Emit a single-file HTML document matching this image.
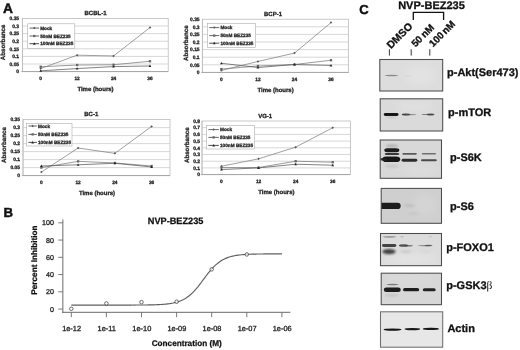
<!DOCTYPE html>
<html><head><meta charset="utf-8"><title>Figure</title><style>html,body{margin:0;padding:0;background:#fff}svg{display:block}</style></head><body>
<svg width="520" height="350" viewBox="0 0 520 350" font-family='"Liberation Sans", sans-serif' text-rendering="geometricPrecision">
<rect width="520" height="350" fill="#fff"/>
<defs><filter id="b1" x="-5%" y="-5%" width="110%" height="110%"><feGaussianBlur stdDeviation="0.35"/></filter><filter id="b2" x="-20%" y="-80%" width="140%" height="260%"><feGaussianBlur stdDeviation="0.75"/></filter><filter id="b4" x="-30%" y="-60%" width="160%" height="220%"><feGaussianBlur stdDeviation="4"/></filter><filter id="b3" x="-20%" y="-50%" width="140%" height="200%"><feGaussianBlur stdDeviation="1.1"/></filter></defs>
<text x="2.90" y="13.20" font-size="13.8" font-weight="bold" text-anchor="start" fill="#111" stroke="#111" stroke-width="0.45">A</text>
<text x="3.40" y="217.20" font-size="13.2" font-weight="bold" text-anchor="start" fill="#111" stroke="#111" stroke-width="0.45">B</text>
<text x="359.20" y="14.00" font-size="13.0" font-weight="bold" text-anchor="start" fill="#111" stroke="#111" stroke-width="0.45">C</text>
<g filter="url(#b1)">
<rect x="22.5" y="18.4" width="145.7" height="53.199999999999996" fill="#fff" stroke="#b2b2b2" stroke-width="0.7"/>
<line x1="22.5" y1="26.00" x2="168.2" y2="26.00" stroke="#c6c6c6" stroke-width="0.7"/>
<line x1="22.5" y1="33.60" x2="168.2" y2="33.60" stroke="#c6c6c6" stroke-width="0.7"/>
<line x1="22.5" y1="41.20" x2="168.2" y2="41.20" stroke="#c6c6c6" stroke-width="0.7"/>
<line x1="22.5" y1="48.80" x2="168.2" y2="48.80" stroke="#c6c6c6" stroke-width="0.7"/>
<line x1="22.5" y1="56.40" x2="168.2" y2="56.40" stroke="#c6c6c6" stroke-width="0.7"/>
<line x1="22.5" y1="64.00" x2="168.2" y2="64.00" stroke="#c6c6c6" stroke-width="0.7"/>
<line x1="22.5" y1="18.4" x2="22.5" y2="71.6" stroke="#bcbcbc" stroke-width="0.8"/>
<line x1="21.3" y1="71.6" x2="168.2" y2="71.6" stroke="#a2a2a2" stroke-width="0.9"/>
<text x="19.10" y="20.10" font-size="4.9" font-weight="bold" text-anchor="end" fill="#222" stroke="#222" stroke-width="0.28">0.35</text>
<text x="19.10" y="27.70" font-size="4.9" font-weight="bold" text-anchor="end" fill="#222" stroke="#222" stroke-width="0.28">0.3</text>
<text x="19.10" y="35.30" font-size="4.9" font-weight="bold" text-anchor="end" fill="#222" stroke="#222" stroke-width="0.28">0.25</text>
<text x="19.10" y="42.90" font-size="4.9" font-weight="bold" text-anchor="end" fill="#222" stroke="#222" stroke-width="0.28">0.2</text>
<text x="19.10" y="50.50" font-size="4.9" font-weight="bold" text-anchor="end" fill="#222" stroke="#222" stroke-width="0.28">0.15</text>
<text x="19.10" y="58.10" font-size="4.9" font-weight="bold" text-anchor="end" fill="#222" stroke="#222" stroke-width="0.28">0.1</text>
<text x="19.10" y="65.70" font-size="4.9" font-weight="bold" text-anchor="end" fill="#222" stroke="#222" stroke-width="0.28">0.05</text>
<text x="19.10" y="73.30" font-size="4.9" font-weight="bold" text-anchor="end" fill="#222" stroke="#222" stroke-width="0.28">0</text>
<text x="95.50" y="15.10" font-size="6.0" font-weight="bold" text-anchor="middle" fill="#222" stroke="#222" stroke-width="0.28">BCBL-1</text>
<text transform="translate(5.20,42.40) rotate(-90)" font-size="6.2" font-weight="bold" text-anchor="middle" fill="#222" stroke="#222" stroke-width="0.28">Absorbance</text>
<text x="40.71" y="80.20" font-size="4.8" font-weight="bold" text-anchor="middle" fill="#222" stroke="#222" stroke-width="0.28">0</text>
<text x="77.14" y="80.20" font-size="4.8" font-weight="bold" text-anchor="middle" fill="#222" stroke="#222" stroke-width="0.28">12</text>
<text x="113.56" y="80.20" font-size="4.8" font-weight="bold" text-anchor="middle" fill="#222" stroke="#222" stroke-width="0.28">24</text>
<text x="149.99" y="80.20" font-size="4.8" font-weight="bold" text-anchor="middle" fill="#222" stroke="#222" stroke-width="0.28">36</text>
<text x="95.50" y="90.70" font-size="6.0" font-weight="bold" text-anchor="middle" fill="#222" stroke="#222" stroke-width="0.28">Time (hours)</text>
<polyline points="40.71,68.56 77.14,55.18 113.56,55.94 149.99,27.52" fill="none" stroke="#808080" stroke-width="0.75"/>
<path d="M40.71 67.31 L41.96 68.56 L40.71 69.81 L39.46 68.56Z" fill="#585858"/>
<path d="M77.14 53.93 L78.39 55.18 L77.14 56.43 L75.89 55.18Z" fill="#585858"/>
<path d="M113.56 54.69 L114.81 55.94 L113.56 57.19 L112.31 55.94Z" fill="#585858"/>
<path d="M149.99 26.27 L151.24 27.52 L149.99 28.77 L148.74 27.52Z" fill="#585858"/>
<polyline points="40.71,66.74 77.14,65.06 113.56,64.76 149.99,61.26" fill="none" stroke="#7a7a7a" stroke-width="0.75"/>
<rect x="39.56" y="65.59" width="2.3" height="2.3" fill="#666"/>
<rect x="75.99" y="63.91" width="2.3" height="2.3" fill="#666"/>
<rect x="112.41" y="63.61" width="2.3" height="2.3" fill="#666"/>
<rect x="148.84" y="60.11" width="2.3" height="2.3" fill="#666"/>
<polyline points="40.71,70.84 77.14,68.56 113.56,66.58 149.99,65.98" fill="none" stroke="#585858" stroke-width="0.75"/>
<path d="M40.71 69.44 L42.06 71.84 L39.36 71.84Z" fill="#222"/>
<path d="M77.14 67.16 L78.49 69.56 L75.79 69.56Z" fill="#222"/>
<path d="M113.56 65.18 L114.91 67.58 L112.21 67.58Z" fill="#222"/>
<path d="M149.99 64.58 L151.34 66.98 L148.64 66.98Z" fill="#222"/>
<rect x="27.7" y="23.8" width="47.099999999999994" height="24.7" fill="#fff" stroke="#adadad" stroke-width="0.6"/>
<line x1="29.5" y1="28.1" x2="39.1" y2="28.1" stroke="#555" stroke-width="0.9"/>
<path d="M34.30 26.85 L35.55 28.10 L34.30 29.35 L33.05 28.10Z" fill="#585858"/>
<text x="40.20" y="29.80" font-size="4.7" font-weight="bold" text-anchor="start" fill="#2a2a2a" stroke="#222" stroke-width="0.28">Mock</text>
<line x1="29.5" y1="36.0" x2="39.1" y2="36.0" stroke="#555" stroke-width="0.9"/>
<rect x="33.15" y="34.85" width="2.3" height="2.3" fill="#666"/>
<text x="40.20" y="37.70" font-size="4.7" font-weight="bold" text-anchor="start" fill="#2a2a2a" stroke="#222" stroke-width="0.28">50nM BEZ235</text>
<line x1="29.5" y1="43.7" x2="39.1" y2="43.7" stroke="#3c3c3c" stroke-width="0.9"/>
<path d="M34.30 42.30 L35.65 44.70 L32.95 44.70Z" fill="#222"/>
<text x="40.20" y="45.40" font-size="4.7" font-weight="bold" text-anchor="start" fill="#2a2a2a" stroke="#222" stroke-width="0.28">100nM BEZ235</text>
<rect x="202.4" y="19.2" width="146.20000000000002" height="53.2" fill="#fff" stroke="#b2b2b2" stroke-width="0.7"/>
<line x1="202.4" y1="26.80" x2="348.6" y2="26.80" stroke="#c6c6c6" stroke-width="0.7"/>
<line x1="202.4" y1="34.40" x2="348.6" y2="34.40" stroke="#c6c6c6" stroke-width="0.7"/>
<line x1="202.4" y1="42.00" x2="348.6" y2="42.00" stroke="#c6c6c6" stroke-width="0.7"/>
<line x1="202.4" y1="49.60" x2="348.6" y2="49.60" stroke="#c6c6c6" stroke-width="0.7"/>
<line x1="202.4" y1="57.20" x2="348.6" y2="57.20" stroke="#c6c6c6" stroke-width="0.7"/>
<line x1="202.4" y1="64.80" x2="348.6" y2="64.80" stroke="#c6c6c6" stroke-width="0.7"/>
<line x1="202.4" y1="19.2" x2="202.4" y2="72.4" stroke="#bcbcbc" stroke-width="0.8"/>
<line x1="201.20000000000002" y1="72.4" x2="348.6" y2="72.4" stroke="#a2a2a2" stroke-width="0.9"/>
<text x="199.60" y="20.90" font-size="4.9" font-weight="bold" text-anchor="end" fill="#222" stroke="#222" stroke-width="0.28">0.35</text>
<text x="199.60" y="28.50" font-size="4.9" font-weight="bold" text-anchor="end" fill="#222" stroke="#222" stroke-width="0.28">0.3</text>
<text x="199.60" y="36.10" font-size="4.9" font-weight="bold" text-anchor="end" fill="#222" stroke="#222" stroke-width="0.28">0.25</text>
<text x="199.60" y="43.70" font-size="4.9" font-weight="bold" text-anchor="end" fill="#222" stroke="#222" stroke-width="0.28">0.2</text>
<text x="199.60" y="51.30" font-size="4.9" font-weight="bold" text-anchor="end" fill="#222" stroke="#222" stroke-width="0.28">0.15</text>
<text x="199.60" y="58.90" font-size="4.9" font-weight="bold" text-anchor="end" fill="#222" stroke="#222" stroke-width="0.28">0.1</text>
<text x="199.60" y="66.50" font-size="4.9" font-weight="bold" text-anchor="end" fill="#222" stroke="#222" stroke-width="0.28">0.05</text>
<text x="199.60" y="74.10" font-size="4.9" font-weight="bold" text-anchor="end" fill="#222" stroke="#222" stroke-width="0.28">0</text>
<text x="273.00" y="16.10" font-size="6.0" font-weight="bold" text-anchor="middle" fill="#222" stroke="#222" stroke-width="0.28">BCP-1</text>
<text transform="translate(187.60,43.20) rotate(-90)" font-size="6.2" font-weight="bold" text-anchor="middle" fill="#222" stroke="#222" stroke-width="0.28">Absorbance</text>
<text x="221.38" y="81.10" font-size="4.8" font-weight="bold" text-anchor="middle" fill="#222" stroke="#222" stroke-width="0.28">0</text>
<text x="257.93" y="81.10" font-size="4.8" font-weight="bold" text-anchor="middle" fill="#222" stroke="#222" stroke-width="0.28">12</text>
<text x="294.48" y="81.10" font-size="4.8" font-weight="bold" text-anchor="middle" fill="#222" stroke="#222" stroke-width="0.28">24</text>
<text x="331.03" y="81.10" font-size="4.8" font-weight="bold" text-anchor="middle" fill="#222" stroke="#222" stroke-width="0.28">36</text>
<text x="275.60" y="91.50" font-size="6.0" font-weight="bold" text-anchor="middle" fill="#222" stroke="#222" stroke-width="0.28">Time (hours)</text>
<polyline points="221.38,70.42 257.93,61.46 294.48,53.10 331.03,22.54" fill="none" stroke="#808080" stroke-width="0.75"/>
<path d="M221.38 69.17 L222.62 70.42 L221.38 71.67 L220.12 70.42Z" fill="#585858"/>
<path d="M257.93 60.21 L259.18 61.46 L257.93 62.71 L256.68 61.46Z" fill="#585858"/>
<path d="M294.48 51.85 L295.73 53.10 L294.48 54.35 L293.23 53.10Z" fill="#585858"/>
<path d="M331.03 21.29 L332.28 22.54 L331.03 23.79 L329.78 22.54Z" fill="#585858"/>
<polyline points="221.38,69.06 257.93,66.02 294.48,64.50 331.03,60.24" fill="none" stroke="#7a7a7a" stroke-width="0.75"/>
<rect x="220.22" y="67.91" width="2.3" height="2.3" fill="#666"/>
<rect x="256.78" y="64.87" width="2.3" height="2.3" fill="#666"/>
<rect x="293.33" y="63.35" width="2.3" height="2.3" fill="#666"/>
<rect x="329.88" y="59.09" width="2.3" height="2.3" fill="#666"/>
<polyline points="221.38,63.28 257.93,67.54 294.48,64.50 331.03,65.41" fill="none" stroke="#585858" stroke-width="0.75"/>
<path d="M221.38 61.88 L222.72 64.28 L220.03 64.28Z" fill="#222"/>
<path d="M257.93 66.14 L259.28 68.54 L256.57 68.54Z" fill="#222"/>
<path d="M294.48 63.10 L295.83 65.50 L293.12 65.50Z" fill="#222"/>
<path d="M331.03 64.01 L332.38 66.41 L329.68 66.41Z" fill="#222"/>
<rect x="207.4" y="23.6" width="48.19999999999999" height="23.799999999999997" fill="#fff" stroke="#adadad" stroke-width="0.6"/>
<line x1="209.20000000000002" y1="27.6" x2="219.3" y2="27.6" stroke="#555" stroke-width="0.9"/>
<path d="M214.25 26.35 L215.50 27.60 L214.25 28.85 L213.00 27.60Z" fill="#585858"/>
<text x="220.40" y="29.30" font-size="4.7" font-weight="bold" text-anchor="start" fill="#2a2a2a" stroke="#222" stroke-width="0.28">Mock</text>
<line x1="209.20000000000002" y1="35.6" x2="219.3" y2="35.6" stroke="#555" stroke-width="0.9"/>
<rect x="213.10" y="34.45" width="2.3" height="2.3" fill="#666"/>
<text x="220.40" y="37.30" font-size="4.7" font-weight="bold" text-anchor="start" fill="#2a2a2a" stroke="#222" stroke-width="0.28">50nM BEZ235</text>
<line x1="209.20000000000002" y1="43.2" x2="219.3" y2="43.2" stroke="#3c3c3c" stroke-width="0.9"/>
<path d="M214.25 41.80 L215.60 44.20 L212.90 44.20Z" fill="#222"/>
<text x="220.40" y="44.90" font-size="4.7" font-weight="bold" text-anchor="start" fill="#2a2a2a" stroke="#222" stroke-width="0.28">100nM BEZ235</text>
<rect x="23" y="119.6" width="147" height="56.0" fill="#fff" stroke="#b2b2b2" stroke-width="0.7"/>
<line x1="23" y1="127.60" x2="170" y2="127.60" stroke="#c6c6c6" stroke-width="0.7"/>
<line x1="23" y1="135.60" x2="170" y2="135.60" stroke="#c6c6c6" stroke-width="0.7"/>
<line x1="23" y1="143.60" x2="170" y2="143.60" stroke="#c6c6c6" stroke-width="0.7"/>
<line x1="23" y1="151.60" x2="170" y2="151.60" stroke="#c6c6c6" stroke-width="0.7"/>
<line x1="23" y1="159.60" x2="170" y2="159.60" stroke="#c6c6c6" stroke-width="0.7"/>
<line x1="23" y1="167.60" x2="170" y2="167.60" stroke="#c6c6c6" stroke-width="0.7"/>
<line x1="23" y1="119.6" x2="23" y2="175.6" stroke="#bcbcbc" stroke-width="0.8"/>
<line x1="21.8" y1="175.6" x2="170" y2="175.6" stroke="#a2a2a2" stroke-width="0.9"/>
<text x="20.00" y="121.30" font-size="4.9" font-weight="bold" text-anchor="end" fill="#222" stroke="#222" stroke-width="0.28">0.35</text>
<text x="20.00" y="129.30" font-size="4.9" font-weight="bold" text-anchor="end" fill="#222" stroke="#222" stroke-width="0.28">0.3</text>
<text x="20.00" y="137.30" font-size="4.9" font-weight="bold" text-anchor="end" fill="#222" stroke="#222" stroke-width="0.28">0.25</text>
<text x="20.00" y="145.30" font-size="4.9" font-weight="bold" text-anchor="end" fill="#222" stroke="#222" stroke-width="0.28">0.2</text>
<text x="20.00" y="153.30" font-size="4.9" font-weight="bold" text-anchor="end" fill="#222" stroke="#222" stroke-width="0.28">0.15</text>
<text x="20.00" y="161.30" font-size="4.9" font-weight="bold" text-anchor="end" fill="#222" stroke="#222" stroke-width="0.28">0.1</text>
<text x="20.00" y="169.30" font-size="4.9" font-weight="bold" text-anchor="end" fill="#222" stroke="#222" stroke-width="0.28">0.05</text>
<text x="20.00" y="177.30" font-size="4.9" font-weight="bold" text-anchor="end" fill="#222" stroke="#222" stroke-width="0.28">0</text>
<text x="91.30" y="116.10" font-size="6.0" font-weight="bold" text-anchor="middle" fill="#222" stroke="#222" stroke-width="0.28">BC-1</text>
<text transform="translate(5.80,145.00) rotate(-90)" font-size="6.2" font-weight="bold" text-anchor="middle" fill="#222" stroke="#222" stroke-width="0.28">Absorbance</text>
<text x="41.38" y="184.10" font-size="4.8" font-weight="bold" text-anchor="middle" fill="#222" stroke="#222" stroke-width="0.28">0</text>
<text x="78.12" y="184.10" font-size="4.8" font-weight="bold" text-anchor="middle" fill="#222" stroke="#222" stroke-width="0.28">12</text>
<text x="114.88" y="184.10" font-size="4.8" font-weight="bold" text-anchor="middle" fill="#222" stroke="#222" stroke-width="0.28">24</text>
<text x="151.62" y="184.10" font-size="4.8" font-weight="bold" text-anchor="middle" fill="#222" stroke="#222" stroke-width="0.28">36</text>
<text x="97.00" y="194.50" font-size="6.0" font-weight="bold" text-anchor="middle" fill="#222" stroke="#222" stroke-width="0.28">Time (hours)</text>
<polyline points="41.38,172.08 78.12,148.00 114.88,153.36 151.62,126.40" fill="none" stroke="#808080" stroke-width="0.75"/>
<path d="M41.38 170.83 L42.62 172.08 L41.38 173.33 L40.12 172.08Z" fill="#585858"/>
<path d="M78.12 146.75 L79.38 148.00 L78.12 149.25 L76.88 148.00Z" fill="#585858"/>
<path d="M114.88 152.11 L116.12 153.36 L114.88 154.61 L113.62 153.36Z" fill="#585858"/>
<path d="M151.62 125.15 L152.88 126.40 L151.62 127.65 L150.38 126.40Z" fill="#585858"/>
<polyline points="41.38,167.60 78.12,161.36 114.88,162.96 151.62,166.00" fill="none" stroke="#7a7a7a" stroke-width="0.75"/>
<rect x="40.23" y="166.45" width="2.3" height="2.3" fill="#666"/>
<rect x="76.97" y="160.21" width="2.3" height="2.3" fill="#666"/>
<rect x="113.72" y="161.81" width="2.3" height="2.3" fill="#666"/>
<rect x="150.47" y="164.85" width="2.3" height="2.3" fill="#666"/>
<polyline points="41.38,166.00 78.12,164.80 114.88,163.28 151.62,166.96" fill="none" stroke="#585858" stroke-width="0.75"/>
<path d="M41.38 164.60 L42.73 167.00 L40.02 167.00Z" fill="#222"/>
<path d="M78.12 163.40 L79.47 165.80 L76.78 165.80Z" fill="#222"/>
<path d="M114.88 161.88 L116.22 164.28 L113.53 164.28Z" fill="#222"/>
<path d="M151.62 165.56 L152.97 167.96 L150.28 167.96Z" fill="#222"/>
<rect x="26.6" y="123.6" width="45.4" height="22.400000000000006" fill="#fff" stroke="#adadad" stroke-width="0.6"/>
<line x1="28.400000000000002" y1="126.0" x2="36.9" y2="126.0" stroke="#555" stroke-width="0.9"/>
<path d="M32.65 124.75 L33.90 126.00 L32.65 127.25 L31.40 126.00Z" fill="#585858"/>
<text x="38.00" y="127.70" font-size="4.7" font-weight="bold" text-anchor="start" fill="#2a2a2a" stroke="#222" stroke-width="0.28">Mock</text>
<line x1="28.400000000000002" y1="134.4" x2="36.9" y2="134.4" stroke="#555" stroke-width="0.9"/>
<rect x="31.50" y="133.25" width="2.3" height="2.3" fill="#666"/>
<text x="38.00" y="136.10" font-size="4.7" font-weight="bold" text-anchor="start" fill="#2a2a2a" stroke="#222" stroke-width="0.28">50nM BEZ235</text>
<line x1="28.400000000000002" y1="142.4" x2="36.9" y2="142.4" stroke="#3c3c3c" stroke-width="0.9"/>
<path d="M32.65 141.00 L34.00 143.40 L31.30 143.40Z" fill="#222"/>
<text x="38.00" y="144.10" font-size="4.7" font-weight="bold" text-anchor="start" fill="#2a2a2a" stroke="#222" stroke-width="0.28">100nM BEZ235</text>
<rect x="202" y="121" width="148.39999999999998" height="53.599999999999994" fill="#fff" stroke="#b2b2b2" stroke-width="0.7"/>
<line x1="202" y1="127.70" x2="350.4" y2="127.70" stroke="#c6c6c6" stroke-width="0.7"/>
<line x1="202" y1="134.40" x2="350.4" y2="134.40" stroke="#c6c6c6" stroke-width="0.7"/>
<line x1="202" y1="141.10" x2="350.4" y2="141.10" stroke="#c6c6c6" stroke-width="0.7"/>
<line x1="202" y1="147.80" x2="350.4" y2="147.80" stroke="#c6c6c6" stroke-width="0.7"/>
<line x1="202" y1="154.50" x2="350.4" y2="154.50" stroke="#c6c6c6" stroke-width="0.7"/>
<line x1="202" y1="161.20" x2="350.4" y2="161.20" stroke="#c6c6c6" stroke-width="0.7"/>
<line x1="202" y1="167.90" x2="350.4" y2="167.90" stroke="#c6c6c6" stroke-width="0.7"/>
<line x1="202" y1="121" x2="202" y2="174.6" stroke="#bcbcbc" stroke-width="0.8"/>
<line x1="200.8" y1="174.6" x2="350.4" y2="174.6" stroke="#a2a2a2" stroke-width="0.9"/>
<text x="200.00" y="122.70" font-size="4.9" font-weight="bold" text-anchor="end" fill="#222" stroke="#222" stroke-width="0.28">0.8</text>
<text x="200.00" y="129.40" font-size="4.9" font-weight="bold" text-anchor="end" fill="#222" stroke="#222" stroke-width="0.28">0.7</text>
<text x="200.00" y="136.10" font-size="4.9" font-weight="bold" text-anchor="end" fill="#222" stroke="#222" stroke-width="0.28">0.6</text>
<text x="200.00" y="142.80" font-size="4.9" font-weight="bold" text-anchor="end" fill="#222" stroke="#222" stroke-width="0.28">0.5</text>
<text x="200.00" y="149.50" font-size="4.9" font-weight="bold" text-anchor="end" fill="#222" stroke="#222" stroke-width="0.28">0.4</text>
<text x="200.00" y="156.20" font-size="4.9" font-weight="bold" text-anchor="end" fill="#222" stroke="#222" stroke-width="0.28">0.3</text>
<text x="200.00" y="162.90" font-size="4.9" font-weight="bold" text-anchor="end" fill="#222" stroke="#222" stroke-width="0.28">0.2</text>
<text x="200.00" y="169.60" font-size="4.9" font-weight="bold" text-anchor="end" fill="#222" stroke="#222" stroke-width="0.28">0.1</text>
<text x="200.00" y="176.30" font-size="4.9" font-weight="bold" text-anchor="end" fill="#222" stroke="#222" stroke-width="0.28">0</text>
<text x="265.20" y="117.70" font-size="6.0" font-weight="bold" text-anchor="middle" fill="#222" stroke="#222" stroke-width="0.28">VG-1</text>
<text transform="translate(188.80,145.20) rotate(-90)" font-size="6.2" font-weight="bold" text-anchor="middle" fill="#222" stroke="#222" stroke-width="0.28">Absorbance</text>
<text x="221.45" y="183.10" font-size="4.8" font-weight="bold" text-anchor="middle" fill="#222" stroke="#222" stroke-width="0.28">0</text>
<text x="258.55" y="183.10" font-size="4.8" font-weight="bold" text-anchor="middle" fill="#222" stroke="#222" stroke-width="0.28">12</text>
<text x="295.65" y="183.10" font-size="4.8" font-weight="bold" text-anchor="middle" fill="#222" stroke="#222" stroke-width="0.28">24</text>
<text x="332.75" y="183.10" font-size="4.8" font-weight="bold" text-anchor="middle" fill="#222" stroke="#222" stroke-width="0.28">36</text>
<text x="276.40" y="193.70" font-size="6.0" font-weight="bold" text-anchor="middle" fill="#222" stroke="#222" stroke-width="0.28">Time (hours)</text>
<polyline points="221.45,166.22 258.55,158.85 295.65,147.13 332.75,127.70" fill="none" stroke="#808080" stroke-width="0.75"/>
<path d="M221.45 164.97 L222.70 166.22 L221.45 167.47 L220.20 166.22Z" fill="#585858"/>
<path d="M258.55 157.60 L259.80 158.85 L258.55 160.10 L257.30 158.85Z" fill="#585858"/>
<path d="M295.65 145.88 L296.90 147.13 L295.65 148.38 L294.40 147.13Z" fill="#585858"/>
<path d="M332.75 126.45 L334.00 127.70 L332.75 128.95 L331.50 127.70Z" fill="#585858"/>
<polyline points="221.45,167.56 258.55,167.56 295.65,161.20 332.75,162.20" fill="none" stroke="#7a7a7a" stroke-width="0.75"/>
<rect x="220.30" y="166.41" width="2.3" height="2.3" fill="#666"/>
<rect x="257.40" y="166.41" width="2.3" height="2.3" fill="#666"/>
<rect x="294.50" y="160.05" width="2.3" height="2.3" fill="#666"/>
<rect x="331.60" y="161.05" width="2.3" height="2.3" fill="#666"/>
<polyline points="221.45,169.57 258.55,167.90 295.65,164.22 332.75,165.22" fill="none" stroke="#585858" stroke-width="0.75"/>
<path d="M221.45 168.17 L222.80 170.57 L220.10 170.57Z" fill="#222"/>
<path d="M258.55 166.50 L259.90 168.90 L257.20 168.90Z" fill="#222"/>
<path d="M295.65 162.81 L297.00 165.22 L294.30 165.22Z" fill="#222"/>
<path d="M332.75 163.82 L334.10 166.22 L331.40 166.22Z" fill="#222"/>
<rect x="206.6" y="125.6" width="48.0" height="23.400000000000006" fill="#fff" stroke="#adadad" stroke-width="0.6"/>
<line x1="208.4" y1="129.6" x2="218.9" y2="129.6" stroke="#555" stroke-width="0.9"/>
<path d="M213.65 128.35 L214.90 129.60 L213.65 130.85 L212.40 129.60Z" fill="#585858"/>
<text x="220.00" y="131.30" font-size="4.7" font-weight="bold" text-anchor="start" fill="#2a2a2a" stroke="#222" stroke-width="0.28">Mock</text>
<line x1="208.4" y1="137.4" x2="218.9" y2="137.4" stroke="#555" stroke-width="0.9"/>
<rect x="212.50" y="136.25" width="2.3" height="2.3" fill="#666"/>
<text x="220.00" y="139.10" font-size="4.7" font-weight="bold" text-anchor="start" fill="#2a2a2a" stroke="#222" stroke-width="0.28">50nM BEZ235</text>
<line x1="208.4" y1="145.4" x2="218.9" y2="145.4" stroke="#3c3c3c" stroke-width="0.9"/>
<path d="M213.65 144.00 L215.00 146.40 L212.30 146.40Z" fill="#222"/>
<text x="220.00" y="147.10" font-size="4.7" font-weight="bold" text-anchor="start" fill="#2a2a2a" stroke="#222" stroke-width="0.28">100nM BEZ235</text>
</g>
<g>
<line x1="62.85" y1="219.5" x2="62.85" y2="312.8" stroke="#6a6a6a" stroke-width="1"/>
<line x1="62.35" y1="312.3" x2="290.4" y2="312.3" stroke="#6a6a6a" stroke-width="1"/>
<line x1="58.3" y1="222.80" x2="62.85" y2="222.80" stroke="#6a6a6a" stroke-width="0.9"/>
<text x="53.90" y="225.40" font-size="7.1" font-weight="normal" text-anchor="end" fill="#222" stroke="#222" stroke-width="0.3">100</text>
<line x1="58.3" y1="240.05" x2="62.85" y2="240.05" stroke="#6a6a6a" stroke-width="0.9"/>
<text x="53.90" y="242.65" font-size="7.1" font-weight="normal" text-anchor="end" fill="#222" stroke="#222" stroke-width="0.3">80</text>
<line x1="58.3" y1="257.30" x2="62.85" y2="257.30" stroke="#6a6a6a" stroke-width="0.9"/>
<text x="53.90" y="259.90" font-size="7.1" font-weight="normal" text-anchor="end" fill="#222" stroke="#222" stroke-width="0.3">60</text>
<line x1="58.3" y1="274.55" x2="62.85" y2="274.55" stroke="#6a6a6a" stroke-width="0.9"/>
<text x="53.90" y="277.15" font-size="7.1" font-weight="normal" text-anchor="end" fill="#222" stroke="#222" stroke-width="0.3">40</text>
<line x1="58.3" y1="291.80" x2="62.85" y2="291.80" stroke="#6a6a6a" stroke-width="0.9"/>
<text x="53.90" y="294.40" font-size="7.1" font-weight="normal" text-anchor="end" fill="#222" stroke="#222" stroke-width="0.3">20</text>
<line x1="58.3" y1="309.05" x2="62.85" y2="309.05" stroke="#6a6a6a" stroke-width="0.9"/>
<text x="53.90" y="311.65" font-size="7.1" font-weight="normal" text-anchor="end" fill="#222" stroke="#222" stroke-width="0.3">0</text>
<line x1="71.30" y1="312.3" x2="71.30" y2="317.2" stroke="#6a6a6a" stroke-width="0.9"/>
<text x="71.60" y="331.30" font-size="7.4" font-weight="normal" text-anchor="middle" fill="#222" stroke="#222" stroke-width="0.3">1e-12</text>
<line x1="106.40" y1="312.3" x2="106.40" y2="317.2" stroke="#6a6a6a" stroke-width="0.9"/>
<text x="106.70" y="331.30" font-size="7.4" font-weight="normal" text-anchor="middle" fill="#222" stroke="#222" stroke-width="0.3">1e-11</text>
<line x1="141.50" y1="312.3" x2="141.50" y2="317.2" stroke="#6a6a6a" stroke-width="0.9"/>
<text x="141.80" y="331.30" font-size="7.4" font-weight="normal" text-anchor="middle" fill="#222" stroke="#222" stroke-width="0.3">1e-10</text>
<line x1="176.60" y1="312.3" x2="176.60" y2="317.2" stroke="#6a6a6a" stroke-width="0.9"/>
<text x="176.90" y="331.30" font-size="7.4" font-weight="normal" text-anchor="middle" fill="#222" stroke="#222" stroke-width="0.3">1e-09</text>
<line x1="211.70" y1="312.3" x2="211.70" y2="317.2" stroke="#6a6a6a" stroke-width="0.9"/>
<text x="212.00" y="331.30" font-size="7.4" font-weight="normal" text-anchor="middle" fill="#222" stroke="#222" stroke-width="0.3">1e-08</text>
<line x1="246.80" y1="312.3" x2="246.80" y2="317.2" stroke="#6a6a6a" stroke-width="0.9"/>
<text x="247.10" y="331.30" font-size="7.4" font-weight="normal" text-anchor="middle" fill="#222" stroke="#222" stroke-width="0.3">1e-07</text>
<line x1="281.90" y1="312.3" x2="281.90" y2="317.2" stroke="#6a6a6a" stroke-width="0.9"/>
<text x="282.20" y="331.30" font-size="7.4" font-weight="normal" text-anchor="middle" fill="#222" stroke="#222" stroke-width="0.3">1e-06</text>
<polyline points="71.30,305.08 73.06,305.08 74.81,305.08 76.57,305.08 78.32,305.08 80.08,305.08 81.83,305.08 83.59,305.08 85.34,305.08 87.10,305.08 88.85,305.08 90.61,305.08 92.36,305.08 94.12,305.08 95.87,305.08 97.63,305.08 99.38,305.08 101.14,305.08 102.89,305.08 104.65,305.08 106.40,305.08 108.16,305.08 109.91,305.08 111.67,305.08 113.42,305.08 115.18,305.08 116.93,305.08 118.69,305.08 120.44,305.07 122.20,305.07 123.95,305.07 125.71,305.07 127.46,305.06 129.22,305.06 130.97,305.06 132.73,305.05 134.48,305.05 136.24,305.04 137.99,305.03 139.75,305.02 141.50,305.01 143.26,304.99 145.01,304.97 146.77,304.95 148.52,304.92 150.28,304.89 152.03,304.85 153.79,304.81 155.54,304.75 157.30,304.68 159.05,304.60 160.81,304.51 162.56,304.39 164.32,304.25 166.07,304.09 167.83,303.89 169.58,303.66 171.34,303.38 173.09,303.05 174.85,302.66 176.60,302.20 178.36,301.65 180.11,301.01 181.87,300.27 183.62,299.40 185.38,298.40 187.13,297.26 188.89,295.96 190.64,294.49 192.40,292.86 194.15,291.06 195.91,289.11 197.66,287.02 199.42,284.81 201.17,282.52 202.93,280.17 204.68,277.82 206.44,275.49 208.19,273.22 209.95,271.06 211.70,269.02 213.46,267.13 215.21,265.40 216.97,263.84 218.72,262.44 220.48,261.20 222.23,260.11 223.99,259.17 225.74,258.35 227.50,257.65 229.25,257.05 231.01,256.54 232.76,256.11 234.52,255.74 236.27,255.43 238.03,255.17 239.78,254.96 241.54,254.77 243.29,254.62 245.05,254.49 246.80,254.39 248.56,254.30 250.31,254.22 252.07,254.16 253.82,254.11 255.58,254.06 257.33,254.03 259.09,254.00 260.84,253.97 262.60,253.95 264.35,253.94 266.11,253.92 267.86,253.91 269.62,253.90 271.37,253.89 273.13,253.88 274.88,253.88 276.64,253.87 278.39,253.87 280.15,253.87 281.90,253.86" fill="none" stroke="#5e5e5e" stroke-width="1.15"/>
<circle cx="71.30" cy="308.79" r="1.75" fill="#fff" fill-opacity="0.75" stroke="#333" stroke-width="0.7"/>
<circle cx="106.40" cy="303.44" r="1.75" fill="#fff" fill-opacity="0.75" stroke="#333" stroke-width="0.7"/>
<circle cx="141.50" cy="302.15" r="1.75" fill="#fff" fill-opacity="0.75" stroke="#333" stroke-width="0.7"/>
<circle cx="176.60" cy="301.72" r="1.75" fill="#fff" fill-opacity="0.75" stroke="#333" stroke-width="0.7"/>
<circle cx="211.70" cy="269.38" r="1.75" fill="#fff" fill-opacity="0.75" stroke="#333" stroke-width="0.7"/>
<circle cx="246.80" cy="254.45" r="1.75" fill="#fff" fill-opacity="0.75" stroke="#333" stroke-width="0.7"/>
<text x="175.60" y="224.30" font-size="9.2" font-weight="bold" text-anchor="middle" fill="#111" stroke="#111" stroke-width="0.25">NVP-BEZ235</text>
<text x="186.70" y="346.20" font-size="8.2" font-weight="bold" text-anchor="middle" fill="#111" stroke="#111" stroke-width="0.25">Concentration (M)</text>
<text transform="translate(36.6,260.1) rotate(-90)" font-size="8.2" font-weight="bold" text-anchor="middle" fill="#111" stroke="#111" stroke-width="0.25">Percent Inhibition</text>
</g>
<text x="431.50" y="9.10" font-size="11.0" font-weight="bold" text-anchor="middle" fill="#111" stroke="#111" stroke-width="0.3">NVP-BEZ235</text>
<path d="M413.3 20 V12.4 H443.6 V20" fill="none" stroke="#111" stroke-width="1.3"/>
<line x1="389.4" y1="49.2" x2="389.4" y2="55.6" stroke="#222" stroke-width="0.9"/>
<line x1="411.2" y1="49.2" x2="411.2" y2="55.6" stroke="#222" stroke-width="0.9"/>
<line x1="429.8" y1="49.2" x2="429.8" y2="55.6" stroke="#222" stroke-width="0.9"/>
<text transform="translate(391,49.3) rotate(-45)" font-size="10.5" font-weight="bold" fill="#111" stroke="#111" stroke-width="0.3">DMSO</text>
<text transform="translate(415.4,47.6) rotate(-45)" font-size="9.9" font-weight="bold" fill="#111" stroke="#111" stroke-width="0.3">50<tspan dx="-0.6"> nM</tspan></text>
<text transform="translate(433,47.6) rotate(-45)" font-size="9.9" font-weight="bold" fill="#111" stroke="#111" stroke-width="0.3">100<tspan dx="-1.2"> nM</tspan></text>
<rect x="379.8" y="59.5" width="62.90" height="31.50" fill="#dddddd"/>
<clipPath id="c59"><rect x="379.8" y="59.5" width="62.90" height="31.50"/></clipPath>
<g clip-path="url(#c59)">
<ellipse cx="420" cy="75" rx="16" ry="10" fill="#e6e6e6" opacity="0.6" filter="url(#b4)"/>
<ellipse cx="391.5" cy="75.5" rx="6.8" ry="0.85" fill="#555" opacity="0.6" filter="url(#b2)"/>
<ellipse cx="408" cy="76" rx="5" ry="0.7" fill="#777" opacity="0.08" filter="url(#b2)"/>
</g>
<rect x="379.8" y="59.5" width="62.90" height="31.50" fill="none" stroke="#4c4c4c" stroke-width="1.05"/>
<rect x="380.2" y="98.8" width="62.50" height="32.20" fill="#dadada"/>
<clipPath id="c98"><rect x="380.2" y="98.8" width="62.50" height="32.20"/></clipPath>
<g clip-path="url(#c98)">
<ellipse cx="415" cy="107" rx="20" ry="6" fill="#e4e4e4" opacity="0.6" filter="url(#b4)"/>
<rect x="383.8" y="113.05" width="14.70" height="2.9" rx="1.6" ry="1.45" fill="#161616" opacity="1" filter="url(#b2)"/>
<ellipse cx="391" cy="117.2" rx="5" ry="0.8" fill="#777" opacity="0.3" filter="url(#b3)"/>
<ellipse cx="406" cy="114.5" rx="4.2" ry="1.05" fill="#333" opacity="0.9" filter="url(#b2)"/>
<ellipse cx="411" cy="114.6" rx="5.5" ry="0.6" fill="#555" opacity="0.6" filter="url(#b2)"/>
<ellipse cx="428" cy="114.5" rx="6.5" ry="0.6" fill="#555" opacity="0.7" filter="url(#b2)"/>
<ellipse cx="430.5" cy="114.5" rx="3.8" ry="0.95" fill="#3a3a3a" opacity="0.8" filter="url(#b2)"/>
</g>
<rect x="380.2" y="98.8" width="62.50" height="32.20" fill="none" stroke="#4c4c4c" stroke-width="1.05"/>
<rect x="380.2" y="140" width="61.30" height="38.30" fill="#d8d8d8"/>
<clipPath id="c140"><rect x="380.2" y="140" width="61.30" height="38.30"/></clipPath>
<g clip-path="url(#c140)">
<ellipse cx="420" cy="170" rx="18" ry="5" fill="#e0e0e0" opacity="0.6" filter="url(#b4)"/>
<ellipse cx="392" cy="145.8" rx="6.5" ry="1.6" fill="#777" opacity="0.4" filter="url(#b3)"/>
<rect x="384.3" y="148.25" width="15.00" height="3.9" rx="3" ry="1.95" fill="#1a1a1a" opacity="1" filter="url(#b2)"/>
<rect x="384.6" y="152.90" width="14.70" height="2.0" rx="2" ry="1.00" fill="#2e2e2e" opacity="0.95" filter="url(#b2)"/>
<rect x="382.3" y="156.50" width="17.90" height="5.6" rx="4" ry="2.80" fill="#141414" opacity="1" filter="url(#b2)"/>
<ellipse cx="383.5" cy="159.3" rx="4" ry="1.2" fill="#222" opacity="0.9" filter="url(#b2)"/>
<rect x="402.3" y="152.95" width="14.50" height="1.7" rx="1" ry="0.85" fill="#444" opacity="0.85" filter="url(#b2)"/>
<rect x="401.6" y="158.75" width="15.70" height="2.9" rx="1.6" ry="1.45" fill="#222" opacity="0.95" filter="url(#b2)"/>
<rect x="421.8" y="153.10" width="14.20" height="1.4" rx="0.8" ry="0.70" fill="#555" opacity="0.8" filter="url(#b2)"/>
<rect x="421" y="159.20" width="15.80" height="2.0" rx="1.1" ry="1.00" fill="#3a3a3a" opacity="0.9" filter="url(#b2)"/>
<ellipse cx="392" cy="166" rx="7" ry="2" fill="#999" opacity="0.25" filter="url(#b3)"/>
</g>
<rect x="380.2" y="140" width="61.30" height="38.30" fill="none" stroke="#4c4c4c" stroke-width="1.05"/>
<rect x="381.2" y="188.4" width="60.30" height="34.90" fill="#cfcfcf"/>
<clipPath id="c188"><rect x="381.2" y="188.4" width="60.30" height="34.90"/></clipPath>
<g clip-path="url(#c188)">
<ellipse cx="425" cy="205" rx="12" ry="12" fill="#d8d8d8" opacity="0.6" filter="url(#b4)"/>
<rect x="377" y="202.80" width="23.70" height="6.2" rx="3.1" ry="3.10" fill="#1e1e1e" opacity="1" filter="url(#b2)"/>
<ellipse cx="409.5" cy="205.6" rx="5.5" ry="1.2" fill="#888" opacity="0.3" filter="url(#b3)"/>
<ellipse cx="414" cy="213.5" rx="5" ry="1.2" fill="#999" opacity="0.18" filter="url(#b3)"/>
</g>
<rect x="381.2" y="188.4" width="60.30" height="34.90" fill="none" stroke="#4c4c4c" stroke-width="1.05"/>
<rect x="380.5" y="233.5" width="61.00" height="32.20" fill="#dcdcdc"/>
<clipPath id="c233"><rect x="380.5" y="233.5" width="61.00" height="32.20"/></clipPath>
<g clip-path="url(#c233)">
<ellipse cx="411" cy="259" rx="26" ry="5" fill="#e8e8e8" opacity="0.7" filter="url(#b4)"/>
<ellipse cx="389.5" cy="236.8" rx="6.8" ry="0.9" fill="#777" opacity="0.65" filter="url(#b2)"/>
<ellipse cx="402" cy="236.8" rx="1.8" ry="0.7" fill="#888" opacity="0.4" filter="url(#b2)"/>
<ellipse cx="430.5" cy="236.8" rx="2.2" ry="0.7" fill="#999" opacity="0.3" filter="url(#b2)"/>
<rect x="382" y="244.05" width="14.30" height="2.9" rx="1.5" ry="1.45" fill="#333" opacity="0.9" filter="url(#b2)"/>
<ellipse cx="403.5" cy="245.4" rx="4.6" ry="1.25" fill="#383838" opacity="0.85" filter="url(#b2)"/>
<ellipse cx="408.5" cy="245.7" rx="4.5" ry="0.7" fill="#444" opacity="0.7" filter="url(#b2)"/>
<ellipse cx="425" cy="245.6" rx="7.5" ry="0.6" fill="#666" opacity="0.7" filter="url(#b2)"/>
<ellipse cx="428.5" cy="245.5" rx="3.8" ry="0.8" fill="#444" opacity="0.75" filter="url(#b2)"/>
<ellipse cx="389" cy="251.6" rx="6.6" ry="2.7" fill="#333" opacity="0.9" filter="url(#b3)"/>
<ellipse cx="406" cy="251.5" rx="5.5" ry="1.3" fill="#999" opacity="0.3" filter="url(#b3)"/>
<ellipse cx="425" cy="251.5" rx="5" ry="1.0" fill="#aaa" opacity="0.18" filter="url(#b3)"/>
</g>
<rect x="380.5" y="233.5" width="61.00" height="32.20" fill="none" stroke="#4c4c4c" stroke-width="1.05"/>
<rect x="381.2" y="273.2" width="60.30" height="31.50" fill="#d7d7d7"/>
<clipPath id="c273"><rect x="381.2" y="273.2" width="60.30" height="31.50"/></clipPath>
<g clip-path="url(#c273)">
<ellipse cx="411" cy="279" rx="24" ry="3" fill="#dedede" opacity="0.6" filter="url(#b4)"/>
<ellipse cx="392.5" cy="284.5" rx="6" ry="0.8" fill="#555" opacity="0.7" filter="url(#b2)"/>
<rect x="383.8" y="287.45" width="17.00" height="4.5" rx="2.6" ry="2.25" fill="#1c1c1c" opacity="1" filter="url(#b2)"/>
<rect x="403" y="288.10" width="16.20" height="3.2" rx="1.8" ry="1.60" fill="#1e1e1e" opacity="1" filter="url(#b2)"/>
<rect x="422.8" y="288.20" width="12.90" height="3.0" rx="1.7" ry="1.50" fill="#242424" opacity="1" filter="url(#b2)"/>
<ellipse cx="391.5" cy="295.3" rx="6.8" ry="1.0" fill="#888" opacity="0.3" filter="url(#b3)"/>
</g>
<rect x="381.2" y="273.2" width="60.30" height="31.50" fill="none" stroke="#4c4c4c" stroke-width="1.05"/>
<rect x="380.5" y="311.8" width="62.20" height="35.40" fill="#e7e7e7"/>
<clipPath id="c311"><rect x="380.5" y="311.8" width="62.20" height="35.40"/></clipPath>
<g clip-path="url(#c311)">
<ellipse cx="392.5" cy="329.6" rx="9.0" ry="1.15" fill="#141414" opacity="1" filter="url(#b1)"/>
<ellipse cx="412.4" cy="329.1" rx="7.9" ry="1.15" fill="#181818" opacity="1" filter="url(#b1)"/>
<ellipse cx="430.9" cy="328.9" rx="8.1" ry="1.1" fill="#181818" opacity="1" filter="url(#b1)"/>
</g>
<rect x="380.5" y="311.8" width="62.20" height="35.40" fill="none" stroke="#6e6e6e" stroke-width="1.05"/>
<text x="447.00" y="76.40" font-size="11" font-weight="bold" text-anchor="start" fill="#111" stroke="#111" stroke-width="0.3">p-Akt(Ser473)</text>
<text x="448.00" y="116.00" font-size="11" font-weight="bold" text-anchor="start" fill="#111" stroke="#111" stroke-width="0.3">p-mTOR</text>
<text x="450.00" y="161.00" font-size="11" font-weight="bold" text-anchor="start" fill="#111" stroke="#111" stroke-width="0.3">p-S6K</text>
<text x="450.00" y="209.60" font-size="11" font-weight="bold" text-anchor="start" fill="#111" stroke="#111" stroke-width="0.3">p-S6</text>
<text x="446.20" y="251.40" font-size="11" font-weight="bold" text-anchor="start" fill="#111" stroke="#111" stroke-width="0.3">p-FOXO1</text>
<text x="447.40" y="331.60" font-size="11" font-weight="bold" text-anchor="start" fill="#111" stroke="#111" stroke-width="0.3">Actin</text>
<text x="446.2" y="288.6" font-size="11" font-weight="bold" fill="#111" stroke="#111" stroke-width="0.3">p-GSK3<tspan stroke="none" font-family='"Liberation Serif", "DejaVu Serif", serif' font-weight="normal" font-size="11.5">β</tspan></text>
</svg>
</body></html>
